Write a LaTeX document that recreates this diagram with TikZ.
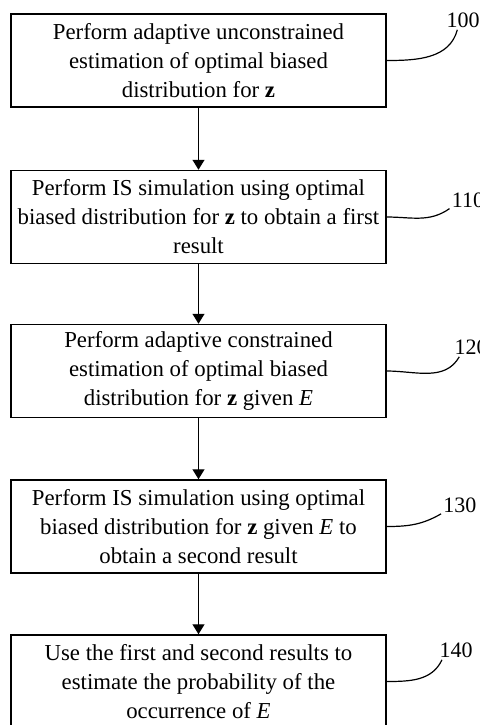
\documentclass[tikz,border=0pt]{standalone}
\usepackage{fontspec}
\setmainfont{Liberation Serif}
\usetikzlibrary{arrows.meta}

\begin{document}
\begin{tikzpicture}[x=0.5pt, y=-0.5pt,
    process/.style ={rectangle, draw, line width=0.75pt, minimum width=187.5pt, minimum height=46.5pt,
                     inner sep=1pt, align=center, font=\fontsize{11.4}{14.5}\selectfont},
    refnum/.style ={inner sep=1pt, font=\fontsize{11}{13}\selectfont},
    flow/.style ={-{Triangle[length=5pt,width=6pt]}, line width=0.6pt},
    leader/.style ={line width=0.6pt}]
   \useasboundingbox (0,0) rectangle (480,725);

   \node[process] (b100) at (198.5,60.5)  {Perform adaptive unconstrained\\estimation of optimal biased\\distribution for \textbf{z}};
   \node[process] (b110) at (198.5,217)   {Perform IS simulation using optimal\\biased distribution for \textbf{z} to obtain a first\\result};
   \node[process] (b120) at (198.5,371)   {Perform adaptive constrained\\estimation of optimal biased\\distribution for \textbf{z} given \textit{E}};
   \node[process] (b130) at (198.5,526.5) {Perform IS simulation using optimal\\biased distribution for \textbf{z} given \textit{E} to\\obtain a second result};
   \node[process] (b140) at (198.5,681.5) {Use the first and second results to\\estimate the probability of the\\occurrence of \textit{E}};

   \node[refnum] (n100) at (463,20)  {100};
   \node[refnum] (n110) at (468,200) {110};
   \node[refnum] (n120) at (471,347) {120};
   \node[refnum] (n130) at (460,505) {130};
   \node[refnum] (n140) at (456,650) {140};

   \draw[flow] (b100) to (b110);
   \draw[flow] (b110) to (b120);
   \draw[flow] (b120) to (b130);
   \draw[flow] (b130) to (b140);

   \draw[leader] (b100.east) to[out=0, in=-105] (n100.240);
   \draw[leader] (b110.east) to[out=0, in=-145] (n110.205);
   \draw[leader] (b120.east) to[out=0, in=-120] (n120.220);
   \draw[leader] (b130.east) to[out=0, in=-150] (n130.205);
   \draw[leader] (b140.east) to[out=0, in=-115] (n140.215);
 \end{tikzpicture}
\end{document}
